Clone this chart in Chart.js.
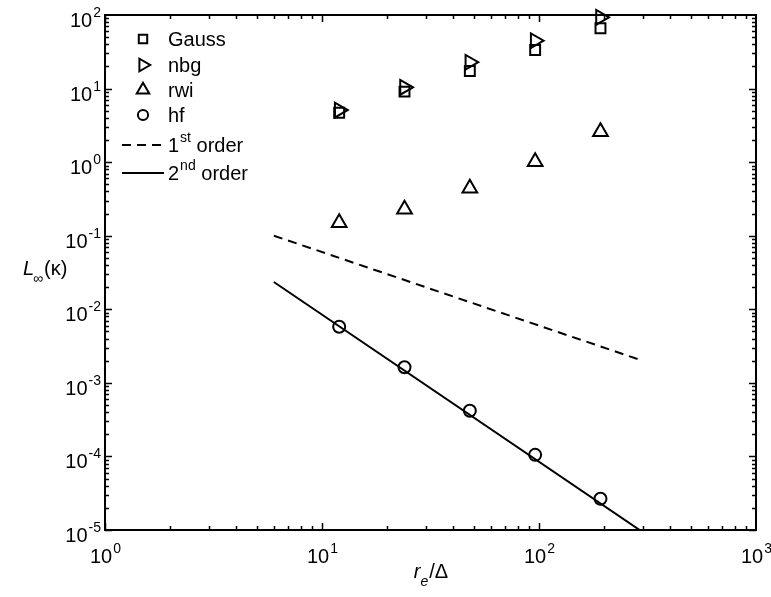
<!DOCTYPE html>
<html>
<head>
<meta charset="utf-8">
<script src="https://cdn.jsdelivr.net/npm/chart.js@4.4.1/dist/chart.umd.min.js"></script>
<style>
	html, body { margin: 0; padding: 0; background: #fff; }
	#wrap { width: 771px; height: 597px; position: relative; }
</style>
</head>
<body>
<div id="wrap"><canvas id="conv"></canvas></div>
<script>
// grid resolution r_e/Delta and max curvature error for each scheme
const reDelta = [12, 24, 48, 96, 192];
const gaussErr = [4.7, 9.1, 17.3, 33.4, 66];
const nbgErr = [5.1, 10.4, 22.8, 44.7, 93];
const rwiErr = [0.15, 0.229, 0.441, 1.01, 2.59];
const hfErr = [0.0058, 0.00163, 0.000418, 0.000105, 0.0000266];

// reference slopes
const refX = [6, 300];
const firstOrder = [0.1, 0.002];
const secondOrder = [0.0235, 0.0000094];

const xTicks = [1, 10, 100, 1000];
const yTicks = [1e-5, 1e-4, 1e-3, 1e-2, 1e-1, 1, 10, 100];

const FONT = "'Liberation Sans', Arial, sans-serif";
const BIG = 20, SMALL = 14;

function pts(xs, ys) {
	return xs.map(function (v, i) { return { x: v, y: ys[i] }; });
}

function marker(ctx, style, rot, r, x, y) {
	ctx.beginPath();
	if (style == "rect") {
		let s = Math.SQRT1_2 * r;
		ctx.rect(x - s, y - s, 2 * s, 2 * s);
	} else if (style == "triangle") {
		let a = rot * Math.PI / 180;
		for (let k = 0; k < 3; k++) {
			let t = a + k * 2 * Math.PI / 3;
			let px = x + Math.sin(t) * r, py = y - Math.cos(t) * r;
			if (k == 0) ctx.moveTo(px, py); else ctx.lineTo(px, py);
		}
		ctx.closePath();
	} else {
		ctx.arc(x, y, r, 0, Math.PI * 2);
	}
	ctx.stroke();
}

// pow-of-ten label: "10" plus a raised exponent
function powLabel(ctx, exp, x, y, align) {
	ctx.font = BIG + "px " + FONT;
	let wb = ctx.measureText("10").width;
	ctx.font = SMALL + "px " + FONT;
	let we = ctx.measureText(exp).width;
	let x0 = align == "right" ? x - wb - we - 1 : x - (wb + we) / 2;
	ctx.font = BIG + "px " + FONT;
	ctx.fillText("10", x0, y);
	ctx.font = SMALL + "px " + FONT;
	ctx.fillText(exp, x0 + wb + 1, y - 10);
}

const matlabAxes = {
	id: "matlabAxes",
	afterDatasetsDraw(chart) {
		const ctx = chart.ctx, a = chart.chartArea;
		const xs = chart.scales.x, ys = chart.scales.y;
		ctx.save();
		ctx.strokeStyle = "#000";
		ctx.fillStyle = "#000";

		// inward ticks on all four sides
		ctx.lineWidth = 1.5;
		ctx.beginPath();
		for (let d = 0; d < 3; d++) {
			for (let m = 1; m <= 9; m++) {
				let px = Math.round(xs.getPixelForValue(m * Math.pow(10, d))) + 0.5;
				let len = m == 1 ? 7 : 4;
				ctx.moveTo(px, a.bottom); ctx.lineTo(px, a.bottom - len);
				ctx.moveTo(px, a.top); ctx.lineTo(px, a.top + len);
			}
		}
		for (let d = -5; d < 2; d++) {
			for (let m = 1; m <= 9; m++) {
				let py = Math.round(ys.getPixelForValue(m * Math.pow(10, d))) + 0.5;
				let len = m == 1 ? 7 : 4;
				ctx.moveTo(a.left, py); ctx.lineTo(a.left + len, py);
				ctx.moveTo(a.right, py); ctx.lineTo(a.right - len, py);
			}
		}
		ctx.stroke();

		ctx.lineWidth = 2;
		ctx.strokeRect(a.left, a.top, a.right - a.left, a.bottom - a.top);

		// tick labels
		ctx.textBaseline = "alphabetic";
		ctx.textAlign = "left";
		xTicks.forEach(function (v) {
			powLabel(ctx, String(Math.round(Math.log10(v))), xs.getPixelForValue(v), a.bottom + 33, "center");
		});
		yTicks.forEach(function (v) {
			powLabel(ctx, String(Math.round(Math.log10(v))), a.left - 4, ys.getPixelForValue(v) + 12, "right");
		});

		// axis titles
		let yl = 275;
		ctx.font = "italic " + BIG + "px " + FONT;
		ctx.fillText("L", 23, yl);
		let w = ctx.measureText("L").width;
		ctx.font = SMALL + "px " + FONT;
		ctx.fillText("\u221E", 23 + w - 1, yl + 8);
		let w2 = ctx.measureText("\u221E").width;
		ctx.font = BIG + "px " + FONT;
		ctx.fillText("(\u03BA)", 23 + w + w2, yl);

		let cx = (a.left + a.right) / 2, xl = 578;
		ctx.font = "italic " + BIG + "px " + FONT;
		let wr = ctx.measureText("r").width;
		ctx.font = "italic " + SMALL + "px " + FONT;
		let we = ctx.measureText("e").width;
		ctx.font = BIG + "px " + FONT;
		let wd = ctx.measureText("/\u0394").width;
		let x0 = cx - (wr + we + wd) / 2;
		ctx.font = "italic " + BIG + "px " + FONT;
		ctx.fillText("r", x0, xl);
		ctx.font = "italic " + SMALL + "px " + FONT;
		ctx.fillText("e", x0 + wr, xl + 8);
		ctx.font = BIG + "px " + FONT;
		ctx.fillText("/\u0394", x0 + wr + we + 1, xl);

		// legend
		const rows = [39, 65, 90, 115, 145, 173];
		chart.data.datasets.forEach(function (ds, i) {
			let ry = rows[i];
			ctx.lineWidth = 2;
			ctx.setLineDash(ds.borderDash || []);
			if (ds.showLine) {
				ctx.beginPath();
				ctx.moveTo(122, ry); ctx.lineTo(164, ry);
				ctx.stroke();
			} else {
				marker(ctx, ds.pointStyle, ds.pointRotation || 0, ds.pointRadius * 0.85, 143, ry);
			}
			ctx.setLineDash([]);
			let parts = ds.label.split("^");
			ctx.font = BIG + "px " + FONT;
			ctx.fillText(parts[0], 168, ry + 7);
			if (parts.length > 1) {
				let pw = ctx.measureText(parts[0]).width;
				let sup = parts[1].split(" ")[0], rest = parts[1].slice(sup.length);
				ctx.font = SMALL + "px " + FONT;
				ctx.fillText(sup, 168 + pw + 1, ry - 3);
				let sw = ctx.measureText(sup).width;
				ctx.font = BIG + "px " + FONT;
				ctx.fillText(rest, 168 + pw + sw + 1, ry + 7);
			}
		});
		ctx.restore();
	}
};

function markerSet(label, ys, style, rot, r) {
	return {
		label: label,
		data: pts(reDelta, ys),
		showLine: false,
		pointStyle: style,
		pointRotation: rot,
		pointRadius: r,
		pointHoverRadius: r,
		pointBorderWidth: 2,
		pointBorderColor: "#000",
		pointBackgroundColor: "rgba(0,0,0,0)",
		borderColor: "#000",
		clip: false
	};
}

function lineSet(label, ys, dash) {
	return {
		label: label,
		data: pts(refX, ys),
		showLine: true,
		borderColor: "#000",
		borderWidth: 2,
		borderDash: dash,
		pointRadius: 0,
		pointHoverRadius: 0,
		tension: 0
	};
}

new Chart(document.getElementById("conv").getContext("2d"), {
	type: "scatter",
	data: {
		datasets: [
			markerSet("Gauss", gaussErr, "rect", 0, 7),
			markerSet("nbg", nbgErr, "triangle", 90, 8.5),
			markerSet("rwi", rwiErr, "triangle", 0, 8.5),
			markerSet("hf", hfErr, "circle", 0, 6),
			lineSet("1^st order", firstOrder, [9, 6]),
			lineSet("2^nd order", secondOrder, [])
		]
	},
	options: {
		responsive: true,
		maintainAspectRatio: false,
		animation: false,
		layout: { padding: { left: 105, right: 15, top: 15, bottom: 67 } },
		plugins: { legend: { display: false }, tooltip: { enabled: false } },
		scales: {
			x: {
				type: "logarithmic", min: 1, max: 1000,
				grid: { display: false, drawTicks: false },
				border: { display: false },
				ticks: { display: false }
			},
			y: {
				type: "logarithmic", min: 1e-5, max: 100,
				grid: { display: false, drawTicks: false },
				border: { display: false },
				ticks: { display: false }
			}
		}
	},
	plugins: [matlabAxes]
});
</script>
</body>
</html>
